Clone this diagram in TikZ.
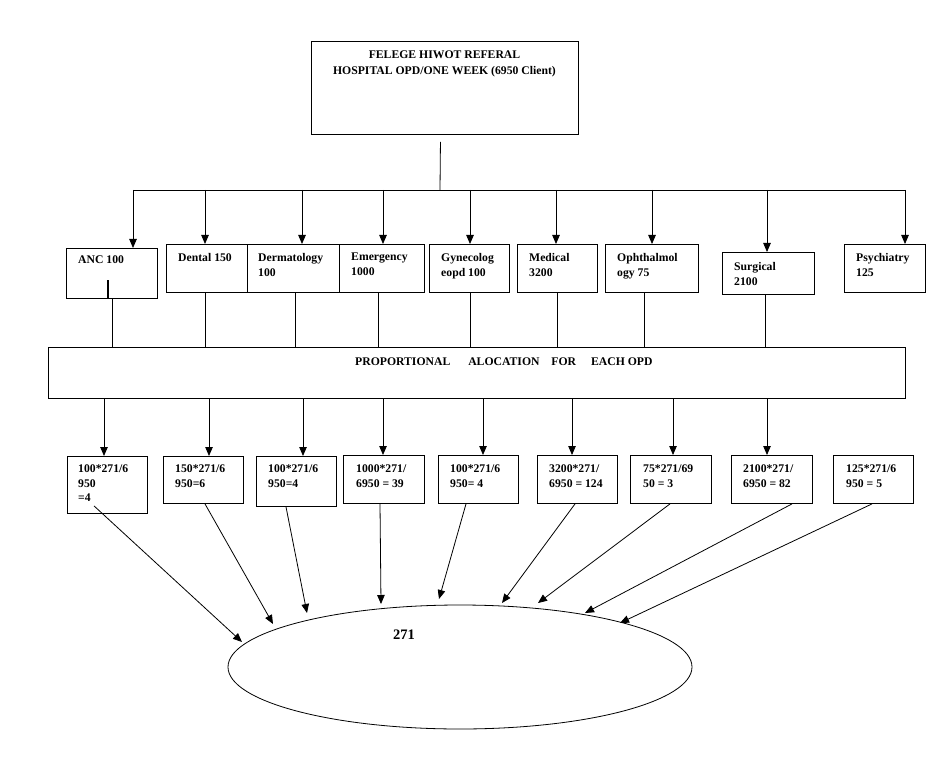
\documentclass[tikz,border=0pt]{standalone}
\usepackage{fontspec}
\setmainfont{Liberation Serif}
\usetikzlibrary{arrows.meta,shapes.geometric,calc}
\begin{document}
\begin{tikzpicture}[x=1pt,y=-1pt,
  box/.style={draw, line width=0.9pt, anchor=north west, inner sep=0},
  txt/.style={inner sep=0, anchor=north west, align=left, font=\bfseries\fontsize{11.7}{15}\selectfont},
  txtb/.style={txt, font=\bfseries\fontsize{11.7}{14.5}\selectfont},
  ln/.style={line width=0.8pt},
  arr/.style={line width=0.8pt, -{Triangle[length=9pt,width=7.5pt]}}]
\useasboundingbox (0,0) rectangle (936,759);
% top box
\node[box, minimum width=267, minimum height=93] (top) at (311,41) {};
\node[inner sep=0, anchor=north, align=center, font=\bfseries\fontsize{11.7}{16}\selectfont] (ttl) at (444.5,51) {FELEGE HIWOT REFERAL\\HOSPITAL OPD/ONE WEEK (6950 Client)};
% row 1
\node[box, minimum width=91, minimum height=50] (anc) at (66,248) {};
\node[txt] (tanc) at (78,256) {ANC 100};
\node[box, minimum width=81, minimum height=48] (den) at (166,244) {};
\node[txt] (tden) at (178,253) {Dental 150};
\node[box, minimum width=92, minimum height=48] (der) at (247,244) {};
\node[txt] (tder) at (258,253) {Dermatology\\100};
\node[box, minimum width=85, minimum height=48] (eme) at (339,244) {};
\node[txt] (teme) at (351,253) {Emergency\\1000};
\node[box, minimum width=80, minimum height=48] (gyn) at (429,244) {};
\node[txt] (tgyn) at (441,253) {Gynecolog\\eopd 100};
\node[box, minimum width=80, minimum height=48] (med) at (517,244) {};
\node[txt] (tmed) at (529,253) {Medical\\3200};
\node[box, minimum width=93, minimum height=48] (oph) at (605,244) {};
\node[txt] (toph) at (617,253) {Ophthalmol\\ogy 75};
\node[box, minimum width=92, minimum height=42] (sur) at (722,252) {};
\node[txt] (tsur) at (734,262) {Surgical\\2100};
\node[box, minimum width=81, minimum height=48] (psy) at (844,244) {};
\node[txt] (tpsy) at (856,253) {Psychiatry\\125};
\draw[line width=2pt] ([xshift=-3.5pt]anc.south) -- ++(0,-19);
% proportional box
\node[box, minimum width=857, minimum height=51] (prop) at (48,347) {};
\node[txt, anchor=base west] (tprop) at (355,365) {PROPORTIONAL \hspace{15pt}ALOCATION \hspace{9pt}FOR \hspace{12pt}EACH OPD};
% row 2
\node[box, minimum width=80, minimum height=57] (r1) at (67,456) {};
\node[txtb] (t1) at (78,465) {100*271/6\\950\\=4};
\node[box, minimum width=80, minimum height=47] (r2) at (163,456) {};
\node[txtb] (t2) at (175,465) {150*271/6\\950=6};
\node[box, minimum width=80, minimum height=50] (r3) at (256,456) {};
\node[txtb] (t3) at (268,465) {100*271/6\\950=4};
\node[box, minimum width=81, minimum height=48] (r4) at (343,455) {};
\node[txtb] (t4) at (356,465) {1000*271/\\6950 = 39};
\node[box, minimum width=80, minimum height=48] (r5) at (438,455) {};
\node[txtb] (t5) at (450,465) {100*271/6\\950= 4};
\node[box, minimum width=80, minimum height=48] (r6) at (537,455) {};
\node[txtb] (t6) at (549,465) {3200*271/\\6950 = 124};
\node[box, minimum width=81, minimum height=48] (r7) at (630,455) {};
\node[txtb] (t7) at (643,465) {75*271/69\\50 = 3};
\node[box, minimum width=81, minimum height=48] (r8) at (731,455) {};
\node[txtb] (t8) at (743,465) {2100*271/\\6950 = 82};
\node[box, minimum width=80, minimum height=48] (r9) at (833,455) {};
\node[txtb] (t9) at (846,465) {125*271/6\\950 = 5};
% ellipse
\node[draw, ellipse, line width=0.8pt, minimum width=464, minimum height=124, inner sep=0] (ell) at (460,667) {};
\node[inner sep=0, anchor=base west, font=\bfseries\fontsize{14.5}{16}\selectfont] (tot) at (393,639) {271};
% arrow ends on the ellipse
\coordinate (e1) at (242,642);
\coordinate (e2) at (273,624);
\coordinate (e3) at (307,613);
\coordinate (e4) at (381,604);
\coordinate (e5) at (439,599);
\coordinate (e6) at (502,603);
\coordinate (e7) at (538,603);
\coordinate (e8) at (585,613);
\coordinate (e9) at (620,623);
% connectors
\coordinate (hub) at (440,190);
\coordinate (busL) at (133,190);
\coordinate (busR) at (905,190);
\draw[ln] ([xshift=-4.5pt,yshift=-7pt]top.south) -- (hub);
\draw[ln] (busL) -- (busR);
\draw[arr] (busL) -- (busL |- anc.north);
\foreach \n/\x in {den/205, der/302, eme/383, gyn/470, med/556, oph/652, sur/767, psy/905}
  \draw[arr] (busL -| \x,0) -- (\n.north -| \x,0);
\foreach \n/\x in {anc/112, den/205, der/295, eme/378, gyn/470, med/557, oph/644, sur/765}
  \draw[ln] (\n.south -| \x,0) -- (prop.north -| \x,0);
\foreach \n/\x in {r1/104, r2/209, r3/303, r4/383, r5/483, r6/572, r7/673, r8/767}
  \draw[arr] (prop.south -| \x,0) -- (\n.north -| \x,0);
\draw[arr] ($(r1.south west)+(27,-8)$) -- (e1);
\foreach \n/\x/\e in {r2/205/e2, r3/286/e3, r4/380/e4, r5/466/e5, r6/575/e6, r7/670/e7, r8/792/e8, r9/872/e9}
  \draw[arr] (\n.south -| \x,0) -- (\e);
\end{tikzpicture}
\end{document}
